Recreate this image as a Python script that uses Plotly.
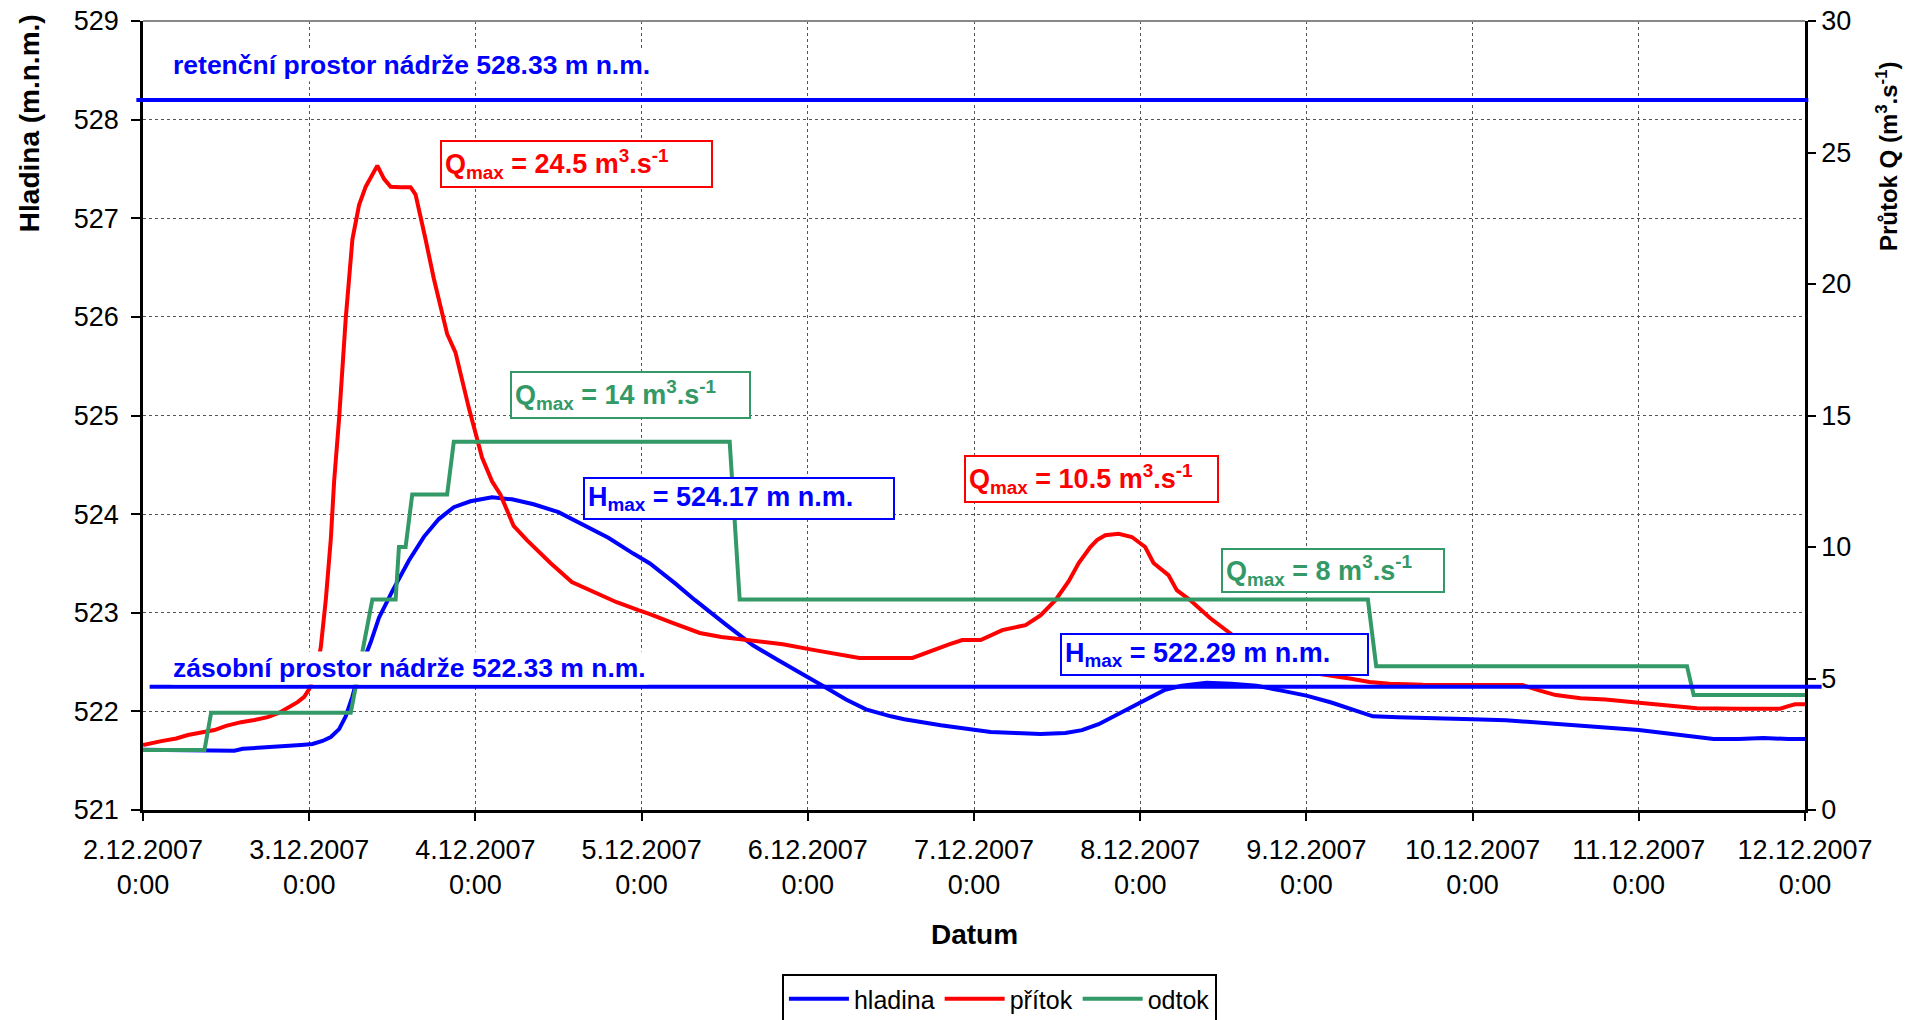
import pandas as pd
import plotly.graph_objects as go

START = pd.Timestamp("2007-12-02 00:00")

# hladina (water level, m n.m.) - left axis
hladina_days = [0.00, 0.20, 0.40, 0.55, 0.60, 0.70, 0.85, 0.95, 1.02, 1.08, 1.13, 1.18, 1.22, 1.26,
                1.30, 1.37, 1.42, 1.50, 1.60, 1.69, 1.78, 1.87, 1.97, 2.10, 2.22, 2.35, 2.50, 2.65,
                2.80, 2.95, 3.05, 3.20, 3.32, 3.50, 3.67, 3.82, 3.95, 4.10, 4.23, 4.35, 4.50, 4.58,
                4.80, 4.95, 5.10, 5.25, 5.40, 5.55, 5.65, 5.75, 5.85, 5.95, 6.05, 6.15, 6.25, 6.40,
                6.55, 6.70, 6.85, 7.00, 7.15, 7.30, 7.40, 7.55, 7.70, 7.85, 8.00, 8.20, 8.45, 8.65,
                8.85, 9.00, 9.15, 9.30, 9.45, 9.60, 9.75, 9.90, 10.00]
hladina_m = [521.61, 521.61, 521.61, 521.60, 521.62, 521.63, 521.64, 521.66, 521.67, 521.70, 521.74,
             521.82, 521.95, 522.15, 522.40, 522.70, 522.95, 523.22, 523.53, 523.77, 523.95, 524.07,
             524.13, 524.17, 524.15, 524.10, 524.02, 523.89, 523.76, 523.60, 523.50, 523.30, 523.13,
             522.89, 522.67, 522.52, 522.40, 522.25, 522.12, 522.02, 521.95, 521.92, 521.86, 521.82,
             521.79, 521.78, 521.77, 521.78, 521.81, 521.87, 521.96, 522.05, 522.14, 522.22, 522.26,
             522.29, 522.28, 522.26, 522.21, 522.16, 522.09, 522.00, 521.95, 521.94, 521.93, 521.92,
             521.92, 521.91, 521.88, 521.86, 521.83, 521.81, 521.78, 521.75, 521.72, 521.72, 521.73,
             521.72, 521.72]

# přítok (inflow, m3/s) - right axis
pritok_days = [0.00, 0.05, 0.11, 0.20, 0.27, 0.35, 0.43, 0.50, 0.59, 0.67, 0.75, 0.82, 0.88, 0.93,
               0.97, 1.00, 1.02, 1.05, 1.07, 1.10, 1.13, 1.15, 1.18, 1.22, 1.26, 1.30, 1.34, 1.38,
               1.41, 1.45, 1.49, 1.55, 1.61, 1.64, 1.67, 1.70, 1.75, 1.83, 1.88, 1.96, 2.04, 2.10,
               2.15, 2.23, 2.31, 2.45, 2.58, 2.71, 2.85, 2.98, 3.05, 3.17, 3.35, 3.48, 3.70, 3.85,
               4.04, 4.20, 4.31, 4.63, 4.72, 4.85, 4.93, 5.04, 5.17, 5.31, 5.40, 5.49, 5.57, 5.63,
               5.70, 5.74, 5.79, 5.87, 5.95, 6.03, 6.08, 6.17, 6.22, 6.30, 6.42, 6.54, 6.65, 6.72,
               6.85, 6.94, 7.05, 7.17, 7.26, 7.38, 7.50, 7.70, 8.00, 8.30, 8.40, 8.50, 8.65, 8.80,
               8.97, 9.15, 9.35, 9.60, 9.85, 9.90, 9.94, 10.00]
pritok_q = [2.47, 2.55, 2.62, 2.72, 2.85, 2.95, 3.04, 3.20, 3.34, 3.42, 3.53, 3.70, 3.90, 4.10,
            4.30, 4.60, 4.94, 5.50, 6.20, 8.00, 10.30, 12.50, 14.90, 18.70, 21.70, 23.00, 23.70, 24.20,
            24.50, 24.00, 23.70, 23.68, 23.68, 23.40, 22.60, 21.70, 20.20, 18.10, 17.40, 15.30, 13.40, 12.50,
            12.00, 10.80, 10.26, 9.40, 8.67, 8.29, 7.90, 7.60, 7.45, 7.15, 6.73, 6.58, 6.40, 6.30,
            6.08, 5.90, 5.78, 5.78, 6.00, 6.30, 6.46, 6.46, 6.84, 7.03, 7.40, 7.98, 8.70, 9.39,
            10.00, 10.26, 10.45, 10.50, 10.38, 10.00, 9.39, 8.93, 8.36, 7.98, 7.30, 6.73, 6.20, 5.67,
            5.40, 5.30, 5.20, 5.10, 5.00, 4.87, 4.80, 4.76, 4.75, 4.75, 4.55, 4.37, 4.25, 4.20,
            4.10, 4.00, 3.87, 3.85, 3.85, 3.95, 4.02, 4.02]

# odtok (outflow, m3/s) - right axis
odtok_days = [0.00, 0.37, 0.41, 1.25, 1.38, 1.52, 1.54, 1.58, 1.62, 1.83, 1.87, 3.53, 3.59,
              7.37, 7.42, 9.29, 9.33, 10.00]
odtok_q = [2.28, 2.28, 3.70, 3.70, 8.00, 8.00, 10.00, 10.00, 12.00, 12.00, 14.00, 14.00, 8.00,
           8.00, 5.47, 5.47, 4.37, 4.37]

tick_dates = ["2007-12-02", "2007-12-03", "2007-12-04", "2007-12-05", "2007-12-06", "2007-12-07",
              "2007-12-08", "2007-12-09", "2007-12-10", "2007-12-11", "2007-12-12"]
tick_labels = ["2.12.2007<br>0:00", "3.12.2007<br>0:00", "4.12.2007<br>0:00", "5.12.2007<br>0:00",
               "6.12.2007<br>0:00", "7.12.2007<br>0:00", "8.12.2007<br>0:00", "9.12.2007<br>0:00",
               "10.12.2007<br>0:00", "11.12.2007<br>0:00", "12.12.2007<br>0:00"]

RETENCNI_LEVEL = 528.2
ZASOBNI_LEVEL = 522.25

BLUE = "#0000FF"
RED = "#FF0000"
GREEN = "#339966"
FONT = "Liberation Sans, Arial, sans-serif"


def to_dates(days):
    return [START + pd.Timedelta(days=d) for d in days]


fig = go.Figure()
fig.add_trace(go.Scatter(x=to_dates(hladina_days), y=hladina_m, mode="lines", name="hladina",
                         line=dict(color=BLUE, width=4), yaxis="y"))
fig.add_trace(go.Scatter(x=to_dates(pritok_days), y=pritok_q, mode="lines", name="přítok",
                         line=dict(color=RED, width=4), yaxis="y2"))
fig.add_trace(go.Scatter(x=to_dates(odtok_days), y=odtok_q, mode="lines", name="odtok",
                         line=dict(color=GREEN, width=4), yaxis="y2"))

shapes = [
    dict(type="line", xref="paper", yref="y", x0=-0.004, x1=1.002, y0=RETENCNI_LEVEL, y1=RETENCNI_LEVEL,
         line=dict(color=BLUE, width=4)),
    dict(type="line", xref="paper", yref="y", x0=0.004, x1=1.01, y0=ZASOBNI_LEVEL, y1=ZASOBNI_LEVEL,
         line=dict(color=BLUE, width=4)),
    dict(type="line", xref="paper", yref="paper", x0=0, x1=1, y0=1, y1=1,
         line=dict(color="#888888", width=2)),
]


def box(text, color, x, y, w, h):
    return dict(text="<b>" + text + "</b>", xref="paper", yref="paper", x=x, y=y,
                xanchor="left", yanchor="middle", showarrow=False, align="left",
                width=w, height=h, bgcolor="white", bordercolor=color, borderwidth=2,
                borderpad=3, font=dict(family=FONT, size=27, color=color))


annotations = [
    dict(text="<b>retenční prostor nádrže 528.33 m n.m.</b>", xref="paper", yref="paper",
         x=0.0166, y=0.944, xanchor="left", yanchor="middle", showarrow=False, bgcolor="white",
         borderpad=1, font=dict(family=FONT, size=26.5, color=BLUE)),
    dict(text="<b>zásobní prostor nádrže 522.33 m n.m.</b>", xref="paper", yref="paper",
         x=0.0166, y=0.1795, xanchor="left", yanchor="middle", showarrow=False, bgcolor="white",
         borderpad=1, font=dict(family=FONT, size=26.5, color=BLUE)),
    box("Q<sub>max</sub> = 24.5 m<sup>3</sup>.s<sup>-1</sup>", RED, 0.1787, 0.8186, 263, 38),
    box("Q<sub>max</sub> = 14 m<sup>3</sup>.s<sup>-1</sup>", GREEN, 0.2208, 0.5259, 231, 38),
    box("H<sub>max</sub> = 524.17 m n.m.", BLUE, 0.2647, 0.3953, 302, 33),
    box("Q<sub>max</sub> = 10.5 m<sup>3</sup>.s<sup>-1</sup>", RED, 0.494, 0.4194, 245, 38),
    box("Q<sub>max</sub> = 8 m<sup>3</sup>.s<sup>-1</sup>", GREEN, 0.6486, 0.3041, 214, 35),
    box("H<sub>max</sub> = 522.29 m n.m.", BLUE, 0.5517, 0.1968, 299, 33),
    dict(text="<b>Hladina (m.n.m.)</b>", xref="paper", yref="paper", x=-0.0686, y=0.8705,
         xanchor="center", yanchor="middle", textangle=-90, showarrow=False,
         font=dict(family=FONT, size=28, color="black")),
    dict(text="<b>Průtok Q (m<sup>3</sup>.s<sup>-1</sup>)</b>", xref="paper", yref="paper",
         x=1.0493, y=0.8287, xanchor="center", yanchor="middle", textangle=-90, showarrow=False,
         font=dict(family=FONT, size=24, color="black")),
    dict(text="<b>Datum</b>", xref="paper", yref="paper", x=0.5, y=-0.1584,
         xanchor="center", yanchor="middle", showarrow=False,
         font=dict(family=FONT, size=28, color="black")),
]

fig.update_layout(
    width=1918, height=1020,
    margin=dict(l=143, r=113, t=21, b=210, autoexpand=False),
    paper_bgcolor="white", plot_bgcolor="white",
    font=dict(family=FONT, color="black"),
    shapes=shapes, annotations=annotations,
    showlegend=True,
    legend=dict(orientation="h", x=0.5153, xanchor="center", y=-0.208, yanchor="top",
                bordercolor="black", borderwidth=2, bgcolor="white",
                font=dict(family=FONT, size=25, color="black"), itemwidth=60),
    xaxis=dict(type="date", range=[START, START + pd.Timedelta(days=10)],
               tickmode="array", tickvals=tick_dates, ticktext=tick_labels,
               showline=True, linecolor="black", linewidth=2.5, ticks="outside", ticklen=8,
               tickwidth=2, tickcolor="black", tickfont=dict(family=FONT, size=27, color="black"),
               ticklabelstandoff=6,
               showgrid=True, gridcolor="#555555", griddash="dot", gridwidth=1, zeroline=False),
    yaxis=dict(range=[521, 529], tick0=521, dtick=1, showline=True, linecolor="black", linewidth=2.5,
               ticks="outside", ticklen=9, tickwidth=2, tickcolor="black",
               tickfont=dict(family=FONT, size=27, color="black"), ticklabelstandoff=7,
               showgrid=True, gridcolor="#555555", griddash="dot", gridwidth=1, zeroline=False),
    yaxis2=dict(range=[0, 30], tick0=0, dtick=5, overlaying="y", side="right", showline=True,
                linecolor="black", linewidth=2.5, ticks="outside", ticklen=8, tickwidth=2,
                tickcolor="black", tickfont=dict(family=FONT, size=27, color="black"),
                showgrid=False, zeroline=False),
)

fig.write_html("out.html")
